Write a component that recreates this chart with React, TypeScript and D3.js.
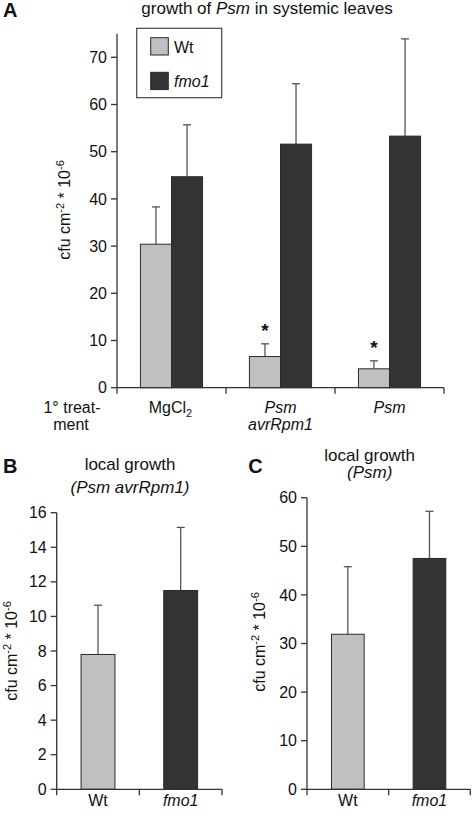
import React from 'react';
import * as d3 from 'd3';

// ---------- data ----------
const treatments = ['MgCl2', 'Psm avrRpm1', 'Psm'];
const genotypes = ['Wt', 'fmo1'];

const wtSystemic = [30.4, 6.6, 4.0];
const wtSystemicErr = [7.9, 2.7, 1.7];
const fmo1Systemic = [44.7, 51.6, 53.3];
const fmo1SystemicErr = [11.0, 12.8, 20.6];
const wtSignificant = [false, true, true];

const localAvr = [7.8, 11.5];
const localAvrErr = [2.85, 3.65];
const localPsm = [31.9, 47.5];
const localPsmErr = [13.9, 9.7];

const ticksA = [0, 10, 20, 30, 40, 50, 60, 70];
const ticksB = [0, 2, 4, 6, 8, 10, 12, 14, 16];
const ticksC = [0, 10, 20, 30, 40, 50, 60];

// ---------- style ----------
const FONT = '"Liberation Sans", Arial, Helvetica, sans-serif';
const WT_FILL = '#c0c0c0';
const FMO_FILL = '#333333';
const BAR_STROKE = '#2a2a2a';
const AXIS = '#333333';
const ERR = '#555555';
const fills = [WT_FILL, FMO_FILL];

const YLabel = ({ x, y }: { x: number; y: number }) => (
  <text
    transform={`translate(${x},${y}) rotate(-90)`}
    textAnchor="middle"
    fontSize={16}
    fill="#111"
  >
    cfu cm
    <tspan dy={-6} fontSize={11}>-2</tspan>
    <tspan dy={6}> * 10</tspan>
    <tspan dy={-6} fontSize={11}>-6</tspan>
  </text>
);

const YAxis = ({ scale, ticks, x0 }: { scale: d3.ScaleLinear<number, number>; ticks: number[]; x0: number }) => {
  const [r0, r1] = scale.range();
  return (
    <g>
      <line x1={x0} x2={x0} y1={r0} y2={r1} stroke={AXIS} strokeWidth={1.3} />
      {ticks.map((t) => (
        <g key={t}>
          <line x1={x0 - 6} x2={x0} y1={scale(t)} y2={scale(t)} stroke={AXIS} strokeWidth={1.3} />
          <text x={x0 - 10} y={scale(t)} dy="0.35em" textAnchor="end" fontSize={16} fill="#111">
            {t}
          </text>
        </g>
      ))}
    </g>
  );
};

const XAxis = ({ scale, y0 }: { scale: d3.ScaleBand<string>; y0: number }) => {
  const [a, b] = scale.range();
  const dom = scale.domain();
  const bounds = [a, ...dom.map((d) => (scale(d) as number) + scale.bandwidth())];
  return (
    <g>
      <line x1={a} x2={b} y1={y0} y2={y0} stroke={AXIS} strokeWidth={1.3} />
      {bounds.map((bx, i) => (
        <line key={i} x1={bx} x2={bx} y1={y0} y2={y0 + 6} stroke={AXIS} strokeWidth={1.3} />
      ))}
    </g>
  );
};

const Bar = ({ x, w, y0, y1, yErr, fill }: { x: number; w: number; y0: number; y1: number; yErr: number; fill: string }) => (
  <g>
    <line x1={x + w / 2} x2={x + w / 2} y1={y1} y2={yErr} stroke={ERR} strokeWidth={1.3} />
    <line x1={x + w / 2 - 4} x2={x + w / 2 + 4} y1={yErr} y2={yErr} stroke={ERR} strokeWidth={1.3} />
    <rect x={x} y={y1} width={w} height={y0 - y1} fill={fill} stroke={BAR_STROKE} strokeWidth={1} />
  </g>
);

export default function App() {
  // Panel A
  const yA = d3.scaleLinear().domain([0, 75]).range([387.7, 33.7]);
  const xA = d3.scaleBand<string>().domain(treatments).range([117, 444]).padding(0);
  const barWA = xA.bandwidth() * 0.285;
  const xInner = d3.scaleBand<string>().domain(genotypes).range([0, barWA * 2]).padding(0);
  const seriesA = [
    { vals: wtSystemic, errs: wtSystemicErr },
    { vals: fmo1Systemic, errs: fmo1SystemicErr },
  ];

  // Panel B
  const yB = d3.scaleLinear().domain([0, 16]).range([789.3, 512.7]);
  const xB = d3.scaleBand<string>().domain(genotypes).range([56.7, 222]).padding(0);
  const barWB = xB.bandwidth() * 0.41;

  // Panel C
  const yC = d3.scaleLinear().domain([0, 60]).range([789.3, 497.7]);
  const xC = d3.scaleBand<string>().domain(genotypes).range([307, 470.3]).padding(0);
  const barWC = xC.bandwidth() * 0.4;

  return (
    <svg
      width={473}
      height={818}
      style={{ position: 'absolute', left: 0, top: 0, background: '#fff' }}
      fontFamily={FONT}
    >
      <rect x={0} y={0} width={473} height={818} fill="#fff" />

      {/* ---------- Panel A ---------- */}
      <text x={3} y={16.7} fontSize={20} fontWeight="bold" fill="#111">A</text>
      <text x={267} y={14} textAnchor="middle" fontSize={17} fill="#111">
        growth of <tspan fontStyle="italic">Psm</tspan> in systemic leaves
      </text>

      {treatments.map((t, i) => {
        const gx = (xA(t) as number) + (xA.bandwidth() - barWA * 2) / 2;
        return (
          <g key={t}>
            {seriesA.map((s, j) => (
              <Bar
                key={j}
                x={gx + (xInner(genotypes[j]) as number)}
                w={barWA}
                y0={yA(0)}
                y1={yA(s.vals[i])}
                yErr={yA(s.vals[i] + s.errs[i])}
                fill={fills[j]}
              />
            ))}
            {wtSignificant[i] && (
              <text
                x={gx + barWA / 2}
                y={yA(wtSystemic[i] + wtSystemicErr[i]) - 7}
                textAnchor="middle"
                fontSize={19}
                fontWeight="bold"
                fill="#111"
              >
                *
              </text>
            )}
          </g>
        );
      })}
      <YAxis scale={yA} ticks={ticksA} x0={117} />
      <XAxis scale={xA} y0={yA(0)} />
      <YLabel x={70} y={210} />

      {/* legend */}
      <rect x={136.7} y={28.3} width={85} height={69.4} fill="#fff" stroke="#444" strokeWidth={1.2} />
      {genotypes.map((g, j) => (
        <g key={g}>
          <rect x={150.7} y={37.7 + j * 34.6} width={17.6} height={17.3} fill={fills[j]} stroke={BAR_STROKE} strokeWidth={1} />
          <text x={174} y={53 + j * 34.3} fontSize={16} fill="#111" fontStyle={j === 1 ? 'italic' : 'normal'}>
            {g}
          </text>
        </g>
      ))}

      {/* x category labels A */}
      <text x={72} y={413} textAnchor="middle" fontSize={16} fill="#111">1° treat-</text>
      <text x={71} y={430} textAnchor="middle" fontSize={16} fill="#111">ment</text>
      <text x={(xA(treatments[0]) as number) + xA.bandwidth() / 2 - 1} y={413} textAnchor="middle" fontSize={16} fill="#111">
        MgCl<tspan dy={4} fontSize={11}>2</tspan>
      </text>
      <text x={(xA(treatments[1]) as number) + xA.bandwidth() / 2} y={413} textAnchor="middle" fontSize={16} fontStyle="italic" fill="#111">Psm</text>
      <text x={(xA(treatments[1]) as number) + xA.bandwidth() / 2} y={430} textAnchor="middle" fontSize={16} fontStyle="italic" fill="#111">avrRpm1</text>
      <text x={(xA(treatments[2]) as number) + xA.bandwidth() / 2} y={413} textAnchor="middle" fontSize={16} fontStyle="italic" fill="#111">Psm</text>

      {/* ---------- Panel B ---------- */}
      <text x={3} y={473} fontSize={20} fontWeight="bold" fill="#111">B</text>
      <text x={130} y={470} textAnchor="middle" fontSize={17} fill="#111">local growth</text>
      <text x={130} y={493} textAnchor="middle" fontSize={17} fontStyle="italic" fill="#111">(Psm avrRpm1)</text>
      {genotypes.map((g, j) => {
        const bx = (xB(g) as number) + (xB.bandwidth() - barWB) / 2;
        return (
          <Bar
            key={g}
            x={bx}
            w={barWB}
            y0={yB(0)}
            y1={yB(localAvr[j])}
            yErr={yB(localAvr[j] + localAvrErr[j])}
            fill={fills[j]}
          />
        );
      })}
      <YAxis scale={yB} ticks={ticksB} x0={56.7} />
      <XAxis scale={xB} y0={yB(0)} />
      <YLabel x={17} y={651} />
      {genotypes.map((g, j) => (
        <text key={g} x={(xB(g) as number) + xB.bandwidth() / 2} y={806} textAnchor="middle" fontSize={16} fontStyle={j === 1 ? 'italic' : 'normal'} fill="#111">
          {g}
        </text>
      ))}

      {/* ---------- Panel C ---------- */}
      <text x={248.3} y={473} fontSize={20} fontWeight="bold" fill="#111">C</text>
      <text x={369.7} y={461} textAnchor="middle" fontSize={17} fill="#111">local growth</text>
      <text x={369.7} y={478.3} textAnchor="middle" fontSize={17} fontStyle="italic" fill="#111">(Psm)</text>
      {genotypes.map((g, j) => {
        const bx = (xC(g) as number) + (xC.bandwidth() - barWC) / 2;
        return (
          <Bar
            key={g}
            x={bx}
            w={barWC}
            y0={yC(0)}
            y1={yC(localPsm[j])}
            yErr={yC(localPsm[j] + localPsmErr[j])}
            fill={fills[j]}
          />
        );
      })}
      <YAxis scale={yC} ticks={ticksC} x0={307} />
      <XAxis scale={xC} y0={yC(0)} />
      <YLabel x={264.7} y={642} />
      {genotypes.map((g, j) => (
        <text key={g} x={(xC(g) as number) + xC.bandwidth() / 2} y={806} textAnchor="middle" fontSize={16} fontStyle={j === 1 ? 'italic' : 'normal'} fill="#111">
          {g}
        </text>
      ))}
    </svg>
  );
}
